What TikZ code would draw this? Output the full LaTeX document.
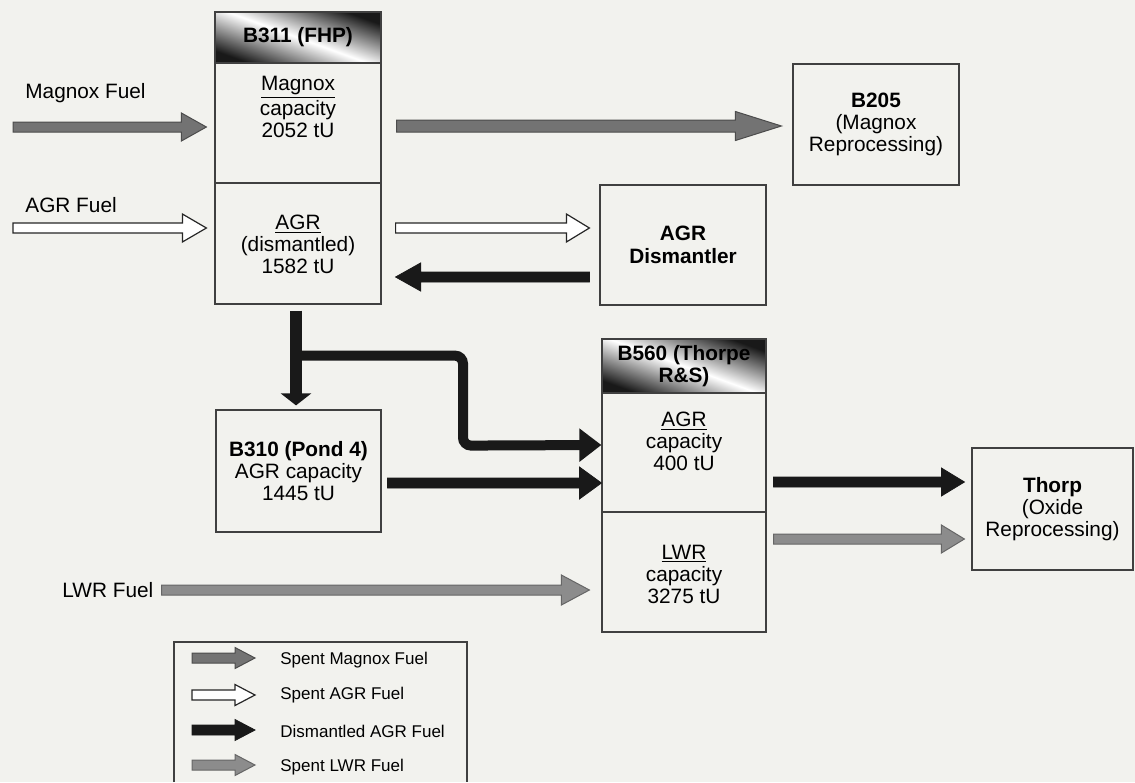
\documentclass[tikz,border=0pt]{standalone}
\usepackage{fontspec}
\setmainfont{Liberation Sans}
\usetikzlibrary{calc,arrows.meta}

\definecolor{paper}{RGB}{242,242,238}

% block arrow: style, start, tip, shaft, head width, head length (px)
\newcommand{\fatarrow}[6]{%
  \draw[#1] let \p1=#2, \p2=#3 in
    (\x1,{\y1+(#4)/4}) -- ({\x2-(#6)/2},{\y1+(#4)/4}) -- ({\x2-(#6)/2},{\y1+(#5)/4})
    -- (\x2,\y1) -- ({\x2-(#6)/2},{\y1-(#5)/4}) -- ({\x2-(#6)/2},{\y1-(#4)/4})
    -- (\x1,{\y1-(#4)/4}) -- cycle;}

\begin{document}
\begin{tikzpicture}[x=0.5pt,y=-0.5pt,
  every node/.style={font=\fontsize{10.4}{11}\selectfont},
  box/.style={draw=black!75, line width=0.6pt, inner sep=0pt, align=center,
    minimum width=83pt, minimum height=60pt},
  hdr/.style={box, top color=black!90, bottom color=black!90, middle color=white,
    shading angle=-20, font=\fontsize{10.4}{11}\selectfont\bfseries},
  txt/.style={inner sep=0pt, align=center},
  lbl/.style={inner sep=0pt, anchor=west},
  keytxt/.style={lbl, font=\fontsize{8.5}{10}\selectfont},
  magnoxarr/.style={draw=black!70, fill=black!55, line width=0.5pt},
  agrarr/.style={draw=black!85, fill=white, line width=0.6pt},
  dismarr/.style={draw=black!90, fill=black!90, line width=0.4pt},
  lwrarr/.style={draw=black!60, fill=black!45, line width=0.5pt},
  dismline/.style={black!90, line width=5pt, rounded corners=4pt}]

  \fill[paper] (0,0) rectangle (1135,782);
  \useasboundingbox (0,0) rectangle (1135,782);

  % B311 store
  \node[hdr, minimum height=25.5pt] (b311h) at (298,37.5) {B311 (FHP)};
  \node[box] (b311m) at (298,123) {};
  \node[box, minimum height=60.5pt] (b311a) at (298,243.5) {};
  \node[txt] (b311mt) at (298,107) {\underline{Magnox}\\capacity\\2052 tU};
  \node[txt] (b311at) at (298,244) {\underline{AGR}\\(dismantled)\\1582 tU};

  % other plants
  \node[box, minimum height=60.5pt] (b205) at (876,124.5) {\textbf{B205}\\(Magnox\\Reprocessing)};
  \node[box, font=\fontsize{10.4}{11.5}\selectfont\bfseries] (dism) at (683,245) {AGR\\Dismantler};
  \node[box, minimum width=82.5pt, minimum height=61pt] (b310) at (298.5,471)
    {\textbf{B310 (Pond 4)}\\AGR capacity\\1445 tU};

  % B560 store
  \node[hdr, minimum width=82pt, minimum height=27pt] (b560h) at (684,366) {B560 (Thorpe\\R\&S)};
  \node[box, minimum width=82pt, minimum height=59.5pt] (b560a) at (684,452.5) {};
  \node[box, minimum width=82pt] (b560l) at (684,572) {};
  \node[txt] (b560at) at (684,441) {\underline{AGR}\\capacity\\400 tU};
  \node[txt] (b560lt) at (684,574) {\underline{LWR}\\capacity\\3275 tU};

  \node[box, minimum width=80.5pt, minimum height=61pt] (thorp) at (1052.5,509)
    {\textbf{Thorp}\\(Oxide\\Reprocessing)};

  % incoming fuel
  \node[lbl] (mglbl) at (25,93) {Magnox Fuel};
  \node[lbl] (agrlbl) at (25,205) {AGR Fuel};
  \node[lbl] (lwrlbl) at (62,590) {LWR Fuel};
  \coordinate (mgin) at (13,127);
  \coordinate (agrin) at (13,228);
  \fatarrow{magnoxarr}{(mgin)}{($(b311m.west|-mgin)+(-8,0)$)}{10}{28}{25}
  \fatarrow{agrarr}{(agrin)}{($(b311a.west|-agrin)+(-8,0)$)}{10}{28}{24}
  \fatarrow{lwrarr}{($(lwrlbl.east)+(8,0)$)}{($(b560l.west)+(-12,0)$)}{10}{30}{28}

  % flows out of B311
  \fatarrow{magnoxarr}{($(b311m.east|-mgin)+(15,-1)$)}{($(b205.west)+(-11,0)$)}{12}{29}{46}
  \fatarrow{agrarr}{($(b311a.east|-agrin)+(14,0)$)}{($(dism.west)+(-10,0)$)}{10}{28}{23}
  \coordinate (dback) at ($(dism.west)+(-10,32)$);
  \fatarrow{dismarr}{(dback)}{($(b311a.east)+(14,0)$)}{10}{28}{-25}

  \draw[dismline, line width=6pt, -{Triangle[length=6pt,width=15pt]}]
    ($(b311a.south)+(-2,6)$) -- ($(b310.north)+(-2.5,-4)$);
  \coordinate (agrsplit) at ($(b311a.south)+(-2,51)$);
  \draw[dismline, -{Triangle[length=11pt,width=16pt]}]
    (agrsplit) -- ++(167,0) -- ++(0,90) -- ($(b560a.west)+(0,-7.5)$);
  \fatarrow{dismarr}{($(b310.east)+(6,12)$)}{(b560a.west)}{10}{32}{22}

  % to Thorp
  \fatarrow{dismarr}{($(b560a.east)+(7,29.5)$)}{($(thorp.west)+(-7,0)$)}{10}{28}{23}
  \fatarrow{lwrarr}{($(b560l.east)+(7,-33)$)}{($(thorp.west)+(-7,0)$)}{10}{28}{23}

  % legend
  \draw[black!75, line width=0.6pt] (174,782) -- (174,642) -- (467,642) -- (467,782);
  \node[keytxt] (k1) at (280,660) {Spent Magnox Fuel};
  \node[keytxt] (k2) at (280,695) {Spent AGR Fuel};
  \node[keytxt] (k3) at (280,731) {Dismantled AGR Fuel};
  \node[keytxt] (k4) at (280,767) {Spent LWR Fuel};
  \fatarrow{magnoxarr}{($(k1.west)+(-88,-2)$)}{($(k1.west)+(-25,0)$)}{10}{21}{20}
  \fatarrow{agrarr}{($(k2.west)+(-88,0)$)}{($(k2.west)+(-25,0)$)}{10}{21}{20}
  \fatarrow{dismarr}{($(k3.west)+(-88,-1)$)}{($(k3.west)+(-25,0)$)}{10}{21}{20}
  \fatarrow{lwrarr}{($(k4.west)+(-88,-2)$)}{($(k4.west)+(-25,0)$)}{10}{21}{20}
\end{tikzpicture}
\end{document}
